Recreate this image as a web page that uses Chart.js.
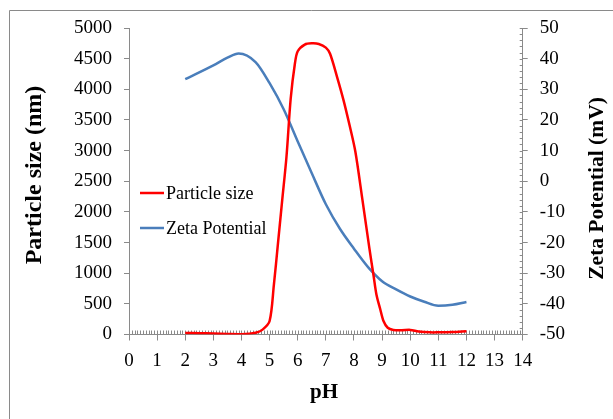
<!DOCTYPE html>
<html>
<head>
<meta charset="utf-8">
<script src="https://cdn.jsdelivr.net/npm/chart.js@4/dist/chart.umd.min.js"></script>
<style>
  body { margin: 0; background: #fff; }
  canvas { display: block; }
</style>
</head>
<body>
<canvas id="grafico" width="613" height="419"></canvas>
<script>
// dados
var ph_tamanho = [2, 2.5, 3, 3.5, 4, 4.5, 4.75, 5, 5.15, 5.3, 5.45, 5.6, 5.75, 5.9, 6, 6.25, 6.5, 6.75, 7, 7.15, 7.4, 7.63, 7.85, 8.05, 8.3, 8.55, 8.7, 8.8, 8.93, 9.05, 9.2, 9.4, 9.7, 10, 10.3, 10.7, 11, 11.5, 12]
var tamanho_particula = [25, 22, 15, 8, 5, 30, 80, 220, 800, 1500, 2200, 2900, 3850, 4420, 4620, 4730, 4750, 4740, 4680, 4580, 4200, 3820, 3400, 2980, 2200, 1400, 950, 650, 420, 220, 110, 75, 70, 75, 50, 35, 35, 40, 55]

var ph_zeta = [2, 3, 3.5, 3.9, 4.5, 5, 5.5, 6, 6.5, 7, 7.5, 8, 8.5, 9, 9.5, 10, 10.5, 11, 11.5, 12]
var potencial_zeta = [33.3, 37.8, 40.3, 41.7, 38.9, 32.0, 23.5, 13, 2.6, -7.5, -15.5, -22, -28, -32.6, -35.3, -37.6, -39.3, -40.6, -40.3, -39.4]

var rotulo_x = 'pH'
var rotulo_y = 'Particle size (nm)'
var rotulo_y2 = 'Zeta Potential (mV)'

var cinza = '#8a8a8a'
var fonte = 'Liberation Serif'

function pontos(xs, ys) {
    return xs.map(function (x, i) { return { x: x, y: ys[i] } })
}

function tituloVertical(c, texto, x, y, tamanho) {
    c.save()
    c.fillStyle = '#000'
    c.font = 'bold ' + tamanho + 'px "' + fonte + '"'
    c.textAlign = 'center'
    c.textBaseline = 'middle'
    c.translate(x, y)
    c.rotate(-Math.PI / 2)
    c.fillText(texto, 0, 0)
    c.restore()
}

// moldura, ticks menores, títulos e legenda
var decoracao = {
    id: 'decoracao',
    beforeDraw: function (chart) {
        var c = chart.ctx
        c.save()
        c.fillStyle = '#fff'
        c.fillRect(0, 0, chart.width, chart.height)
        c.strokeStyle = cinza
        c.lineWidth = 1
        c.beginPath()
        c.moveTo(9.5, chart.height)
        c.lineTo(9.5, 10.5)
        c.lineTo(chart.width, 10.5)
        c.stroke()
        c.restore()
    },
    beforeDatasetsDraw: function (chart) {
        var c = chart.ctx
        var sx = chart.scales.x
        var sy2 = chart.scales.y2
        var area = chart.chartArea
        c.save()
        c.strokeStyle = cinza
        c.lineWidth = 1
        c.beginPath()
        for (var i = 1; i < 140; i++) {
            var px = Math.round(sx.getPixelForValue(i / 10)) + 0.5
            c.moveTo(px, area.bottom)
            c.lineTo(px, area.bottom - 4)
        }
        for (var v = -48; v <= 50; v += 2) {
            var py = Math.round(sy2.getPixelForValue(v)) + 0.5
            c.moveTo(area.right, py)
            c.lineTo(area.right - 3, py)
        }
        c.stroke()
        c.restore()
    },
    afterDraw: function (chart) {
        var c = chart.ctx
        c.save()
        c.fillStyle = '#000'
        c.font = 'bold 21px "' + fonte + '"'
        c.textAlign = 'center'
        c.textBaseline = 'middle'
        c.fillText(rotulo_x, 324, 393)
        c.restore()

        tituloVertical(c, rotulo_y, 35, 175, 24)
        tituloVertical(c, rotulo_y2, 597, 188.5, 21.5)

        // legenda
        c.save()
        c.font = '18px "' + fonte + '"'
        c.textBaseline = 'middle'
        c.lineWidth = 2.5
        chart.data.datasets.forEach(function (ds, i) {
            var y = 193 + i * 35
            c.strokeStyle = ds.borderColor
            c.beginPath()
            c.moveTo(140, y)
            c.lineTo(164, y)
            c.stroke()
            c.fillStyle = '#000'
            c.fillText(ds.label, 166, y + 1)
        })
        c.restore()
    }
}

var ctx = document.getElementById('grafico').getContext('2d')

var config = {
    type: 'line',
    data: {
        datasets: [
            {
                label: 'Particle size',
                data: pontos(ph_tamanho, tamanho_particula),
                borderColor: '#ff0000',
                borderWidth: 2.5,
                pointRadius: 0,
                tension: 0.3,
                yAxisID: 'y'
            },
            {
                label: 'Zeta Potential',
                data: pontos(ph_zeta, potencial_zeta),
                borderColor: '#4a7ebb',
                borderWidth: 2.5,
                pointRadius: 0,
                cubicInterpolationMode: 'monotone',
                yAxisID: 'y2'
            }
        ]
    },
    options: {
        responsive: false,
        animation: false,
        layout: { padding: { top: 28, left: 0, right: 0, bottom: 0 } },
        plugins: {
            legend: { display: false },
            tooltip: { enabled: false }
        },
        scales: {
            x: {
                type: 'linear',
                min: 0,
                max: 14,
                ticks: { stepSize: 1, color: '#000', padding: 9, font: { family: fonte, size: 19 } },
                grid: { drawOnChartArea: false, tickLength: 6, color: cinza, tickColor: cinza },
                border: { color: cinza },
                afterFit: function (s) { s.height = 84.5 }
            },
            y: {
                position: 'left',
                min: 0,
                max: 5000,
                ticks: {
                    stepSize: 500, color: '#000', padding: 12, font: { family: fonte, size: 19 },
                    callback: function (v) { return String(v) }
                },
                grid: { drawOnChartArea: false, tickLength: 5, color: cinza, tickColor: cinza },
                border: { color: cinza },
                afterFit: function (s) { s.width = 129 }
            },
            y2: {
                position: 'right',
                min: -50,
                max: 50,
                ticks: { stepSize: 10, color: '#000', padding: 12, font: { family: fonte, size: 19 } },
                grid: { drawOnChartArea: false, tickLength: 5, color: cinza, tickColor: cinza },
                border: { color: cinza },
                afterFit: function (s) { s.width = 90.3 }
            }
        }
    },
    plugins: [decoracao]
}

var grafico = new Chart(ctx, config)
</script>
</body>
</html>
